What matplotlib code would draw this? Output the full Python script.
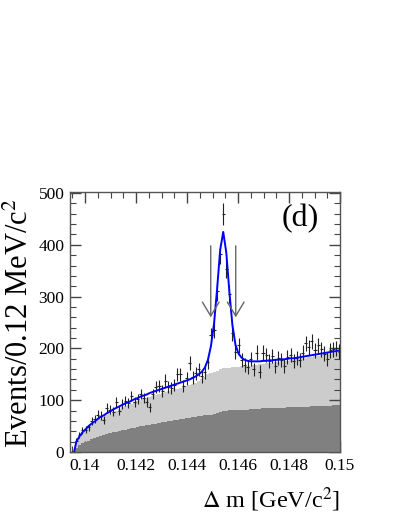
import numpy as np
import matplotlib
matplotlib.use("Agg")
import matplotlib.pyplot as plt
from matplotlib.ticker import MultipleLocator

plt.rcParams['font.family'] = ['Liberation Serif', 'DejaVu Serif']
plt.rcParams['mathtext.fontset'] = 'stix'

# bins of 0.12 MeV starting at 0.1396 GeV
bin_lo = 0.1396
bin_w = 0.00012
nbins = 87

# data counts per bin
counts = [22, 32, 42, 43, 48, 60, 64, 72, 70, 62,
          85, 82, 78, 96, 80, 92, 98, 94, 108, 96,
          102, 112, 104, 97, 86, 112, 126, 128, 118, 138,
          126, 124, 130, 150, 150, 128, 142, 172, 144, 152,
          160, 146, 154, 174, 225, 236, 310, 382, 460, 354,
          305, 230, 194, 206, 178, 168, 164, 180, 160, 192,
          155, 192, 188, 176, 186, 166, 182, 178, 166, 184,
          188, 176, 182, 178, 192, 210, 202, 214, 196, 206,
          198, 190, 180, 196, 198, 200, 194]

# total fit evaluated at the bin centres
fit = [20, 30, 38, 44, 50, 55, 59, 64, 68, 71,
       75, 78, 82, 85, 88, 91, 94, 96, 99, 102,
       104, 107, 109, 111, 114, 116, 118, 120, 122, 124,
       126, 128, 130, 132, 134, 136, 138, 140, 143, 146,
       150, 155, 163, 178, 205, 248, 315, 390, 425, 385,
       310, 245, 207, 190, 182, 178, 176, 175, 175, 175,
       175, 176, 176, 177, 177, 178, 178, 179, 179, 180,
       181, 181, 182, 183, 184, 185, 186, 187, 188, 189,
       190, 191, 192, 193, 194, 195, 196]

# stacked background (light grey = total background)
bkg_light = [18, 28, 36, 42, 47, 52, 56, 61, 64, 68,
             71, 74, 78, 80, 83, 86, 89, 91, 93, 96,
             98, 100, 102, 104, 106, 108, 110, 112, 113, 116,
             117, 119, 121, 122, 124, 126, 128, 130, 132, 134,
             137, 140, 145, 150, 153, 155, 157, 160, 162, 162,
             163, 164, 164, 165, 166, 166, 167, 167, 168, 168,
             169, 170, 171, 171, 172, 173, 174, 175, 175, 176,
             177, 178, 179, 180, 181, 182, 183, 184, 185, 186,
             187, 188, 189, 190, 191, 193, 195]

# dark grey component
bkg_dark = [8, 13, 17, 20, 22, 25, 27, 29, 31, 33,
            35, 36, 38, 39, 41, 42, 43, 45, 46, 47,
            49, 50, 51, 52, 53, 54, 55, 56, 57, 58,
            59, 60, 61, 62, 63, 64, 65, 66, 67, 68,
            69, 70, 71, 71, 72, 74, 76, 78, 79, 80,
            81, 81, 81, 82, 82, 82, 82, 83, 83, 83,
            83, 84, 84, 84, 84, 85, 85, 85, 85, 86,
            86, 86, 86, 87, 87, 87, 87, 88, 88, 88,
            88, 89, 89, 89, 90, 90, 90]

# signal window arrows
arrow_x = [0.14493, 0.14591]
arrow_top = 398
arrow_tip = 260

edges = bin_lo + bin_w * np.arange(nbins + 1)
centres = edges[:-1] + bin_w / 2
counts = np.array(counts)

fig = plt.figure(figsize=(3.99, 5.16), dpi=100)
ax = fig.add_axes([70 / 399, 1 - 452 / 516, 270 / 399, 260 / 516])

ax.stairs(bkg_light, edges, fill=True, color='#cccccc', zorder=1)
ax.stairs(bkg_dark, edges, fill=True, color='#808080', zorder=2)

ax.errorbar(centres, counts, yerr=np.sqrt(counts), xerr=bin_w / 2,
            fmt='none', ecolor='#222222', elinewidth=0.8, zorder=3)

ax.plot(np.concatenate([[0.13957], centres]), np.concatenate([[0], fit]),
        color='#0000ff', lw=1.4, zorder=4)

for xa in arrow_x:
    ax.annotate('', xy=(xa, arrow_tip), xytext=(xa, arrow_top),
                arrowprops=dict(arrowstyle='->,head_length=1.0,head_width=0.6',
                                color='#666666', lw=1.0, shrinkA=0, shrinkB=0),
                zorder=5)

ax.set_xlim(0.13941, 0.15)
ax.set_ylim(0, 502)

ax.xaxis.set_major_locator(MultipleLocator(0.002))
ax.xaxis.set_minor_locator(MultipleLocator(0.0005))
ax.yaxis.set_major_locator(MultipleLocator(100))
ax.yaxis.set_minor_locator(MultipleLocator(20))
ax.set_xticks([0.14, 0.142, 0.144, 0.146, 0.148, 0.15])
ax.set_xticklabels(['0.14', '0.142', '0.144', '0.146', '0.148', '0.15'])

ax.tick_params(which='both', direction='in', top=True, right=True,
               color='#444444', labelsize=12.5, pad=4)
ax.tick_params(which='major', length=8, width=1)
ax.tick_params(which='minor', length=4, width=0.8)
for s in ax.spines.values():
    s.set_color('#555555')
    s.set_linewidth(1.0)

# axis titles placed in figure pixels
fig.text(20 / 399, 1 - 323 / 516, 'Events/0.12 MeV/c$^{2}$', fontsize=22,
         rotation=90, ha='center', va='center')
fig.text(340 / 399, 1 - 500 / 516, r'$\Delta$ m [GeV/c$^{2}$]', fontsize=17.5,
         ha='right', va='center')

ax.text(0.92, 0.955, '(d)', transform=ax.transAxes, fontsize=23,
        ha='right', va='top')

fig.savefig('out.png', dpi=100)
